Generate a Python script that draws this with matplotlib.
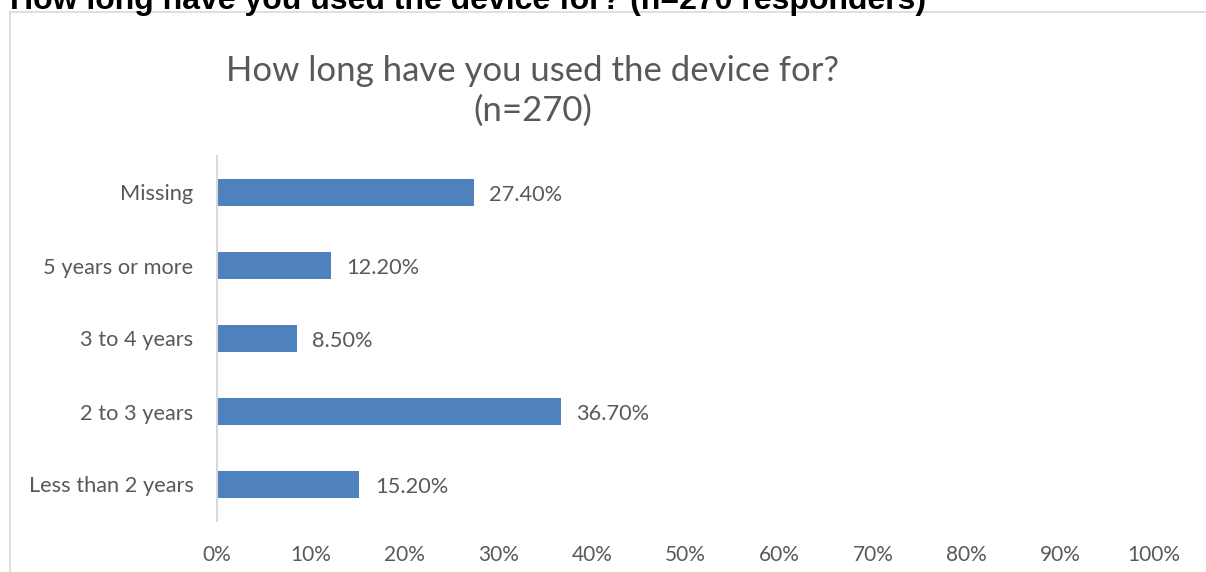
import matplotlib
matplotlib.use("Agg")
import matplotlib.pyplot as plt
from matplotlib.lines import Line2D

categories = ["Less than 2 years", "2 to 3 years", "3 to 4 years", "5 years or more", "Missing"]
values = [15.2, 36.7, 8.5, 12.2, 27.4]
xticks = [0, 10, 20, 30, 40, 50, 60, 70, 80, 90, 100]
xtick_labels = [f"{t}%" for t in xticks]
title = "How long have you used the device for?\n(n=270)"
heading = "How long have you used the device for? (n=270 responders)"

W, H = 1206, 572
fig = plt.figure(figsize=(W / 100, H / 100), dpi=100)
fig.patch.set_facecolor("white")

TXT = "#595959"
FONT = ["Lato", "DejaVu Sans"]

ax = fig.add_axes([217 / W, (H - 521) / H, (1154 - 217) / W, (521 - 156) / H])
ypos = list(range(len(categories)))
ax.barh(ypos, values, height=0.36, color="#4F81BD", edgecolor="none")
ax.set_xlim(0, 100)
ax.set_ylim(-0.5, len(categories) - 0.5)
ax.set_xticks(xticks)
ax.set_xticklabels(xtick_labels)
ax.set_yticks(ypos)
ax.set_yticklabels(categories)
for lab in ax.get_xticklabels():
    lab.set_fontfamily(FONT)
    lab.set_fontsize(15)
    lab.set_color(TXT)
for lab in ax.get_yticklabels():
    lab.set_fontfamily(FONT)
    lab.set_fontsize(15.7)
    lab.set_color(TXT)
ax.tick_params(axis="x", length=0, pad=17)
ax.tick_params(axis="y", length=0, pad=17)
for s in ["top", "right", "bottom"]:
    ax.spines[s].set_visible(False)
ax.spines["left"].set_color("#D9D9D9")
ax.spines["left"].set_linewidth(1.5)

for y, v in zip(ypos, values):
    ax.annotate(f"{v:.2f}%", xy=(v, y), xytext=(11, -1.5), textcoords="offset points",
                va="center", ha="left", fontsize=15.7, color=TXT, family=FONT)

fig.text(533 / W, 1 - 91 / H, title, ha="center", va="center", fontsize=25,
         color=TXT, family=FONT, linespacing=1.32)

fig.text(10 / W, 1 - 9 / H, heading, ha="left", va="baseline", fontsize=23,
         fontweight="bold", family=["Liberation Sans", "DejaVu Sans"], color="black")

fig.add_artist(Line2D([10 / W, 10 / W], [0, 1 - 12 / H], transform=fig.transFigure,
                      color="#D9D9D9", lw=1.2))
fig.add_artist(Line2D([10 / W, 1], [1 - 12 / H, 1 - 12 / H], transform=fig.transFigure,
                      color="#D9D9D9", lw=1.2))

fig.savefig("out.png", dpi=100)
